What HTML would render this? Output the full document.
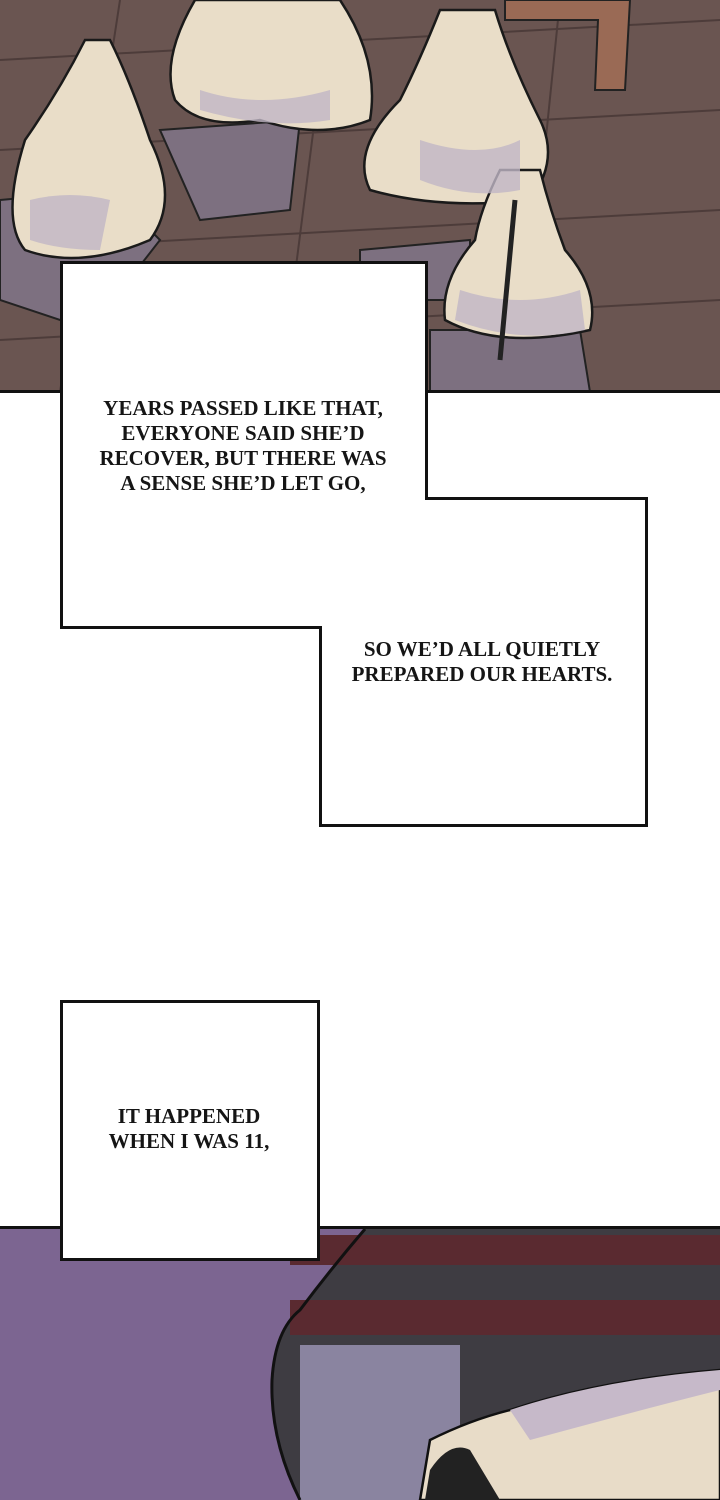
<!DOCTYPE html>
<html><head><style>
html,body{margin:0;padding:0;background:#fff;}
svg{display:block;}
text{font-family:"Liberation Serif",serif;font-size:21px;font-weight:bold;fill:#151515;text-anchor:middle;}
</style></head><body>
<svg width="720" height="1500" viewBox="0 0 720 1500" xmlns="http://www.w3.org/2000/svg">
<rect x="0" y="0" width="720" height="392" fill="#6a5551"/>
<g stroke="#4d3c3a" stroke-width="2" fill="none">
<path d="M0 60 L720 20 M0 150 L720 110 M0 250 L720 210 M0 340 L720 300"/>
<path d="M120 0 L60 392 M330 0 L280 392 M560 0 L520 392"/>
</g>
<path d="M505 0 L630 0 L625 90 L595 90 L598 20 L505 20Z" fill="#9a6a55" stroke="#222" stroke-width="2"/>
<g fill="#7d7080" stroke="#222" stroke-width="2">
<polygon points="0,200 110,190 160,240 90,330 0,300"/>
<polygon points="160,130 300,120 290,210 200,220"/>
<polygon points="360,250 470,240 470,300 360,300"/>
<polygon points="430,330 580,330 590,392 430,392"/>
</g>
<g fill="#e9ddc8" stroke="#1a1a1a" stroke-width="2.5">
<path d="M85 40 Q60 90 25 140 Q0 220 25 250 Q80 270 150 240 Q180 200 150 140 Q130 80 110 40Z"/>
<path d="M195 0 L340 0 Q380 60 370 120 Q320 140 260 120 Q200 130 175 100 Q160 60 195 0Z"/>
<path d="M440 10 Q420 60 400 100 Q350 150 370 190 Q440 210 530 200 Q560 160 540 120 Q510 60 495 10Z"/>
<path d="M500 170 Q480 210 475 240 Q440 280 445 320 Q500 350 590 330 Q600 290 565 250 Q550 210 540 170Z"/>
</g>
<g fill="#c1b6c6" opacity="0.8">
<path d="M30 200 Q70 190 110 200 L100 250 Q60 250 30 240Z"/>
<path d="M200 90 Q260 110 330 90 L330 120 Q270 130 200 110Z"/>
<path d="M420 140 Q480 160 520 140 L520 190 Q470 200 420 180Z"/>
<path d="M460 290 Q520 310 580 290 L585 330 Q520 345 455 320Z"/>
</g>
<path d="M515 200 L500 360" stroke="#222" stroke-width="5"/>
<rect x="0" y="390" width="720" height="3" fill="#111"/>
<path d="M61.5 262.5 L426.5 262.5 L426.5 498.5 L646.5 498.5 L646.5 825.5 L320.5 825.5 L320.5 627.5 L61.5 627.5Z" fill="#fff" stroke="#111" stroke-width="3"/>
<text x="243" y="415">YEARS PASSED LIKE THAT,</text>
<text x="243" y="440">EVERYONE SAID SHE’D</text>
<text x="243" y="465">RECOVER, BUT THERE WAS</text>
<text x="243" y="490">A SENSE SHE’D LET GO,</text>
<text x="482" y="656">SO WE’D ALL QUIETLY</text>
<text x="482" y="681">PREPARED OUR HEARTS.</text>
<rect x="0" y="1227" width="720" height="273" fill="#7c6591"/>
<path d="M365 1229 L720 1229 L720 1500 L300 1500 Q270 1440 272 1380 Q275 1330 300 1310 Q330 1270 365 1229Z" fill="#3e3c42"/>
<rect x="290" y="1235" width="430" height="30" fill="#5a2a30"/>
<rect x="290" y="1300" width="430" height="35" fill="#5a2a30"/>
<rect x="300" y="1345" width="160" height="155" fill="#8a84a0"/>
<path d="M365 1229 Q330 1270 300 1310 Q275 1330 272 1380 Q270 1440 300 1500" fill="none" stroke="#111" stroke-width="3"/>
<path d="M430 1440 Q470 1420 510 1410 Q600 1380 720 1370 L720 1500 L420 1500Z" fill="#e8dcc8" stroke="#111" stroke-width="2.5"/>
<path d="M510 1410 Q600 1380 720 1370 L720 1390 Q640 1410 530 1440Z" fill="#c6b9c9"/>
<path d="M430 1470 Q450 1440 470 1450 L500 1500 L425 1500Z" fill="#222"/>
<rect x="0" y="1226" width="720" height="3" fill="#111"/>
<rect x="61.5" y="1001.5" width="257" height="258" fill="#fff" stroke="#111" stroke-width="3"/>
<text x="189" y="1123">IT HAPPENED</text>
<text x="189" y="1148">WHEN I WAS 11,</text>
</svg>
</body></html>
